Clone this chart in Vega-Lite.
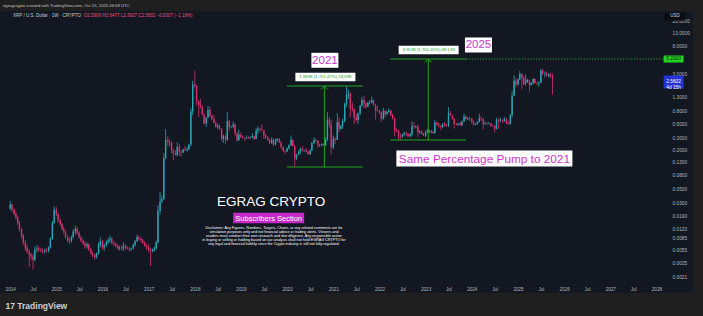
{
"$schema": "https://vega.github.io/schema/vega-lite/v6.json",
"width": 693, "height": 282,
"autosize": {"type": "none"},
"padding": {"left": 0, "top": 11, "right": 10, "bottom": 23},
"background": "#1f1f1f",
"config": {"view": {"fill": "#131722", "stroke": null}, "font": "Liberation Sans"},
"title": {"text": "egragcrypto created with TradingView.com, Oct 15, 2025 06:58 UTC", "anchor": "start", "frame": "group", "offset": 3, "dx": 3, "fontSize": 4.2, "fontWeight": "normal", "color": "#c4c4c4", "font": "Liberation Sans"},
"datasets": {
"candles": [
{"t":"2014-01-01","o":0.0250,"h":0.0330,"l":0.0235,"c":0.0290},
{"t":"2014-01-15","o":0.0290,"h":0.0300,"l":0.0220,"c":0.0240},
{"t":"2014-02-01","o":0.0240,"h":0.0255,"l":0.0195,"c":0.0205},
{"t":"2014-02-15","o":0.0205,"h":0.0225,"l":0.0170,"c":0.0185},
{"t":"2014-03-01","o":0.0185,"h":0.0195,"l":0.0140,"c":0.0150},
{"t":"2014-03-15","o":0.0150,"h":0.0160,"l":0.0110,"c":0.0120},
{"t":"2014-04-01","o":0.0120,"h":0.0125,"l":0.0085,"c":0.0095},
{"t":"2014-04-15","o":0.0095,"h":0.0100,"l":0.0068,"c":0.0075},
{"t":"2014-05-01","o":0.0075,"h":0.0082,"l":0.0055,"c":0.0062},
{"t":"2014-05-15","o":0.0062,"h":0.0070,"l":0.0050,"c":0.0054},
{"t":"2014-06-01","o":0.0054,"h":0.0058,"l":0.0031,"c":0.0048},
{"t":"2014-06-15","o":0.0048,"h":0.0052,"l":0.0040,"c":0.0045},
{"t":"2014-07-01","o":0.0045,"h":0.0050,"l":0.0028,"c":0.0040},
{"t":"2014-07-15","o":0.0040,"h":0.0064,"l":0.0038,"c":0.0058},
{"t":"2014-08-01","o":0.0058,"h":0.0068,"l":0.0052,"c":0.0060},
{"t":"2014-08-15","o":0.0060,"h":0.0065,"l":0.0053,"c":0.0057},
{"t":"2014-09-01","o":0.0057,"h":0.0062,"l":0.0052,"c":0.0055},
{"t":"2014-09-15","o":0.0055,"h":0.0060,"l":0.0050,"c":0.0054},
{"t":"2014-10-01","o":0.0054,"h":0.0060,"l":0.0050,"c":0.0056},
{"t":"2014-10-15","o":0.0056,"h":0.0062,"l":0.0052,"c":0.0055},
{"t":"2014-11-01","o":0.0055,"h":0.0065,"l":0.0052,"c":0.0062},
{"t":"2014-11-15","o":0.0062,"h":0.0090,"l":0.0060,"c":0.0085},
{"t":"2014-12-01","o":0.0085,"h":0.0160,"l":0.0082,"c":0.0150},
{"t":"2014-12-15","o":0.0150,"h":0.0270,"l":0.0145,"c":0.0240},
{"t":"2015-01-01","o":0.0240,"h":0.0265,"l":0.0190,"c":0.0205},
{"t":"2015-01-15","o":0.0205,"h":0.0215,"l":0.0150,"c":0.0165},
{"t":"2015-02-01","o":0.0165,"h":0.0175,"l":0.0135,"c":0.0145},
{"t":"2015-02-15","o":0.0145,"h":0.0150,"l":0.0115,"c":0.0120},
{"t":"2015-03-01","o":0.0120,"h":0.0130,"l":0.0100,"c":0.0110},
{"t":"2015-03-15","o":0.0110,"h":0.0115,"l":0.0085,"c":0.0090},
{"t":"2015-04-01","o":0.0090,"h":0.0098,"l":0.0075,"c":0.0080},
{"t":"2015-04-15","o":0.0080,"h":0.0088,"l":0.0070,"c":0.0078},
{"t":"2015-05-01","o":0.0078,"h":0.0095,"l":0.0074,"c":0.0090},
{"t":"2015-05-15","o":0.0090,"h":0.0120,"l":0.0086,"c":0.0110},
{"t":"2015-06-01","o":0.0110,"h":0.0135,"l":0.0100,"c":0.0120},
{"t":"2015-06-15","o":0.0120,"h":0.0128,"l":0.0098,"c":0.0105},
{"t":"2015-07-01","o":0.0105,"h":0.0112,"l":0.0085,"c":0.0090},
{"t":"2015-07-15","o":0.0090,"h":0.0095,"l":0.0075,"c":0.0080},
{"t":"2015-08-01","o":0.0080,"h":0.0085,"l":0.0068,"c":0.0072},
{"t":"2015-08-15","o":0.0072,"h":0.0078,"l":0.0060,"c":0.0065},
{"t":"2015-09-01","o":0.0065,"h":0.0075,"l":0.0060,"c":0.0070},
{"t":"2015-09-15","o":0.0070,"h":0.0072,"l":0.0055,"c":0.0058},
{"t":"2015-10-01","o":0.0058,"h":0.0062,"l":0.0048,"c":0.0050},
{"t":"2015-10-15","o":0.0050,"h":0.0054,"l":0.0044,"c":0.0047},
{"t":"2015-11-01","o":0.0047,"h":0.0050,"l":0.0040,"c":0.0044},
{"t":"2015-11-15","o":0.0044,"h":0.0052,"l":0.0042,"c":0.0050},
{"t":"2015-12-01","o":0.0050,"h":0.0075,"l":0.0048,"c":0.0068},
{"t":"2015-12-15","o":0.0068,"h":0.0090,"l":0.0062,"c":0.0078},
{"t":"2016-01-01","o":0.0078,"h":0.0082,"l":0.0058,"c":0.0062},
{"t":"2016-01-15","o":0.0062,"h":0.0072,"l":0.0055,"c":0.0068},
{"t":"2016-02-01","o":0.0068,"h":0.0080,"l":0.0064,"c":0.0075},
{"t":"2016-02-15","o":0.0075,"h":0.0088,"l":0.0070,"c":0.0080},
{"t":"2016-03-01","o":0.0080,"h":0.0095,"l":0.0075,"c":0.0085},
{"t":"2016-03-15","o":0.0085,"h":0.0090,"l":0.0070,"c":0.0072},
{"t":"2016-04-01","o":0.0072,"h":0.0078,"l":0.0066,"c":0.0070},
{"t":"2016-04-15","o":0.0070,"h":0.0075,"l":0.0062,"c":0.0066},
{"t":"2016-05-01","o":0.0066,"h":0.0070,"l":0.0058,"c":0.0060},
{"t":"2016-05-15","o":0.0060,"h":0.0066,"l":0.0056,"c":0.0062},
{"t":"2016-06-01","o":0.0062,"h":0.0068,"l":0.0056,"c":0.0060},
{"t":"2016-06-15","o":0.0060,"h":0.0075,"l":0.0055,"c":0.0065},
{"t":"2016-07-01","o":0.0065,"h":0.0070,"l":0.0058,"c":0.0062},
{"t":"2016-07-15","o":0.0062,"h":0.0066,"l":0.0058,"c":0.0060},
{"t":"2016-08-01","o":0.0060,"h":0.0064,"l":0.0054,"c":0.0058},
{"t":"2016-08-15","o":0.0058,"h":0.0062,"l":0.0055,"c":0.0060},
{"t":"2016-09-01","o":0.0060,"h":0.0072,"l":0.0058,"c":0.0068},
{"t":"2016-09-15","o":0.0068,"h":0.0082,"l":0.0064,"c":0.0078},
{"t":"2016-10-01","o":0.0078,"h":0.0098,"l":0.0075,"c":0.0090},
{"t":"2016-10-15","o":0.0090,"h":0.0096,"l":0.0080,"c":0.0085},
{"t":"2016-11-01","o":0.0085,"h":0.0090,"l":0.0076,"c":0.0080},
{"t":"2016-11-15","o":0.0080,"h":0.0084,"l":0.0070,"c":0.0074},
{"t":"2016-12-01","o":0.0074,"h":0.0078,"l":0.0064,"c":0.0066},
{"t":"2016-12-15","o":0.0066,"h":0.0070,"l":0.0058,"c":0.0063},
{"t":"2017-01-01","o":0.0063,"h":0.0070,"l":0.0052,"c":0.0058},
{"t":"2017-01-15","o":0.0058,"h":0.0062,"l":0.0032,"c":0.0055},
{"t":"2017-02-01","o":0.0055,"h":0.0060,"l":0.0052,"c":0.0058},
{"t":"2017-02-15","o":0.0058,"h":0.0064,"l":0.0054,"c":0.0060},
{"t":"2017-03-01","o":0.0060,"h":0.0080,"l":0.0058,"c":0.0075},
{"t":"2017-03-15","o":0.0075,"h":0.0280,"l":0.0072,"c":0.0230},
{"t":"2017-04-01","o":0.0230,"h":0.0450,"l":0.0200,"c":0.0320},
{"t":"2017-04-15","o":0.0320,"h":0.0400,"l":0.0300,"c":0.0350},
{"t":"2017-05-01","o":0.0350,"h":0.1800,"l":0.0340,"c":0.1500},
{"t":"2017-05-15","o":0.1500,"h":0.4300,"l":0.1450,"c":0.2900},
{"t":"2017-06-01","o":0.2900,"h":0.3300,"l":0.2300,"c":0.2700},
{"t":"2017-06-15","o":0.2700,"h":0.3000,"l":0.2300,"c":0.2600},
{"t":"2017-07-01","o":0.2600,"h":0.2800,"l":0.1800,"c":0.2000},
{"t":"2017-07-15","o":0.2000,"h":0.2100,"l":0.1400,"c":0.1800},
{"t":"2017-08-01","o":0.1800,"h":0.2000,"l":0.1650,"c":0.1700},
{"t":"2017-08-15","o":0.1700,"h":0.2650,"l":0.1600,"c":0.2250},
{"t":"2017-09-01","o":0.2250,"h":0.2500,"l":0.1650,"c":0.1900},
{"t":"2017-09-15","o":0.1900,"h":0.2000,"l":0.1600,"c":0.1850},
{"t":"2017-10-01","o":0.1850,"h":0.2100,"l":0.1800,"c":0.2050},
{"t":"2017-10-15","o":0.2050,"h":0.2350,"l":0.1950,"c":0.2000},
{"t":"2017-11-01","o":0.2000,"h":0.2250,"l":0.1900,"c":0.2100},
{"t":"2017-11-15","o":0.2100,"h":0.2550,"l":0.2000,"c":0.2450},
{"t":"2017-12-01","o":0.2450,"h":0.9000,"l":0.2300,"c":0.8000},
{"t":"2017-12-15","o":0.8000,"h":2.4000,"l":0.7000,"c":2.1000},
{"t":"2018-01-01","o":2.1000,"h":3.4000,"l":1.8000,"c":2.0000},
{"t":"2018-01-15","o":2.0000,"h":2.0500,"l":1.0000,"c":1.1500},
{"t":"2018-02-01","o":1.1500,"h":1.2000,"l":0.6500,"c":1.0000},
{"t":"2018-02-15","o":1.0000,"h":1.2500,"l":0.9000,"c":0.9200},
{"t":"2018-03-01","o":0.9200,"h":1.0000,"l":0.7000,"c":0.7200},
{"t":"2018-03-15","o":0.7200,"h":0.7500,"l":0.5000,"c":0.5200},
{"t":"2018-04-01","o":0.5200,"h":0.6500,"l":0.4600,"c":0.6400},
{"t":"2018-04-15","o":0.6400,"h":0.9700,"l":0.6300,"c":0.8400},
{"t":"2018-05-01","o":0.8400,"h":0.9500,"l":0.6500,"c":0.6800},
{"t":"2018-05-15","o":0.6800,"h":0.7200,"l":0.5800,"c":0.6100},
{"t":"2018-06-01","o":0.6100,"h":0.7100,"l":0.5200,"c":0.5300},
{"t":"2018-06-15","o":0.5300,"h":0.5600,"l":0.4500,"c":0.4600},
{"t":"2018-07-01","o":0.4600,"h":0.5200,"l":0.4300,"c":0.4800},
{"t":"2018-07-15","o":0.4800,"h":0.5000,"l":0.4100,"c":0.4300},
{"t":"2018-08-01","o":0.4300,"h":0.4400,"l":0.2800,"c":0.3000},
{"t":"2018-08-15","o":0.3000,"h":0.3500,"l":0.2600,"c":0.3300},
{"t":"2018-09-01","o":0.3300,"h":0.3500,"l":0.2500,"c":0.2900},
{"t":"2018-09-15","o":0.2900,"h":0.7800,"l":0.2800,"c":0.5700},
{"t":"2018-10-01","o":0.5700,"h":0.5900,"l":0.4000,"c":0.4600},
{"t":"2018-10-15","o":0.4600,"h":0.4800,"l":0.4400,"c":0.4650},
{"t":"2018-11-01","o":0.4650,"h":0.5600,"l":0.4400,"c":0.5000},
{"t":"2018-11-15","o":0.5000,"h":0.5200,"l":0.3400,"c":0.3700},
{"t":"2018-12-01","o":0.3700,"h":0.3800,"l":0.2700,"c":0.2900},
{"t":"2018-12-15","o":0.2900,"h":0.4200,"l":0.2800,"c":0.3500},
{"t":"2019-01-01","o":0.3500,"h":0.3800,"l":0.3100,"c":0.3200},
{"t":"2019-01-15","o":0.3200,"h":0.3400,"l":0.3000,"c":0.3100},
{"t":"2019-02-01","o":0.3100,"h":0.3200,"l":0.2800,"c":0.3050},
{"t":"2019-02-15","o":0.3050,"h":0.3400,"l":0.3000,"c":0.3100},
{"t":"2019-03-01","o":0.3100,"h":0.3300,"l":0.3000,"c":0.3080},
{"t":"2019-03-15","o":0.3080,"h":0.3300,"l":0.3050,"c":0.3150},
{"t":"2019-04-01","o":0.3150,"h":0.3700,"l":0.3100,"c":0.3300},
{"t":"2019-04-15","o":0.3300,"h":0.3400,"l":0.2900,"c":0.3000},
{"t":"2019-05-01","o":0.3000,"h":0.4400,"l":0.2950,"c":0.4000},
{"t":"2019-05-15","o":0.4000,"h":0.4700,"l":0.3600,"c":0.4300},
{"t":"2019-06-01","o":0.4300,"h":0.4500,"l":0.3800,"c":0.4250},
{"t":"2019-06-15","o":0.4250,"h":0.5000,"l":0.4100,"c":0.4100},
{"t":"2019-07-01","o":0.4100,"h":0.4200,"l":0.3000,"c":0.3400},
{"t":"2019-07-15","o":0.3400,"h":0.3600,"l":0.3000,"c":0.3150},
{"t":"2019-08-01","o":0.3150,"h":0.3300,"l":0.2800,"c":0.2950},
{"t":"2019-08-15","o":0.2950,"h":0.3000,"l":0.2500,"c":0.2600},
{"t":"2019-09-01","o":0.2600,"h":0.3200,"l":0.2500,"c":0.2900},
{"t":"2019-09-15","o":0.2900,"h":0.3100,"l":0.2300,"c":0.2450},
{"t":"2019-10-01","o":0.2450,"h":0.3000,"l":0.2400,"c":0.2900},
{"t":"2019-10-15","o":0.2900,"h":0.3100,"l":0.2700,"c":0.3000},
{"t":"2019-11-01","o":0.3000,"h":0.3100,"l":0.2600,"c":0.2650},
{"t":"2019-11-15","o":0.2650,"h":0.2750,"l":0.2100,"c":0.2250},
{"t":"2019-12-01","o":0.2250,"h":0.2300,"l":0.1900,"c":0.1950},
{"t":"2019-12-15","o":0.1950,"h":0.2000,"l":0.1750,"c":0.1920},
{"t":"2020-01-01","o":0.1920,"h":0.2200,"l":0.1900,"c":0.2150},
{"t":"2020-01-15","o":0.2150,"h":0.2450,"l":0.2050,"c":0.2400},
{"t":"2020-02-01","o":0.2400,"h":0.3400,"l":0.2350,"c":0.2900},
{"t":"2020-02-15","o":0.2900,"h":0.3000,"l":0.2300,"c":0.2300},
{"t":"2020-03-01","o":0.2300,"h":0.2450,"l":0.1100,"c":0.1500},
{"t":"2020-03-15","o":0.1500,"h":0.1750,"l":0.1400,"c":0.1700},
{"t":"2020-04-01","o":0.1700,"h":0.2000,"l":0.1700,"c":0.1900},
{"t":"2020-04-15","o":0.1900,"h":0.2200,"l":0.1750,"c":0.2100},
{"t":"2020-05-01","o":0.2100,"h":0.2300,"l":0.1900,"c":0.2000},
{"t":"2020-05-15","o":0.2000,"h":0.2050,"l":0.1900,"c":0.2020},
{"t":"2020-06-01","o":0.2020,"h":0.2150,"l":0.1850,"c":0.1900},
{"t":"2020-06-15","o":0.1900,"h":0.1950,"l":0.1700,"c":0.1750},
{"t":"2020-07-01","o":0.1750,"h":0.2050,"l":0.1700,"c":0.2000},
{"t":"2020-07-15","o":0.2000,"h":0.2700,"l":0.1950,"c":0.2600},
{"t":"2020-08-01","o":0.2600,"h":0.3200,"l":0.2500,"c":0.2900},
{"t":"2020-08-15","o":0.2900,"h":0.3050,"l":0.2700,"c":0.2800},
{"t":"2020-09-01","o":0.2800,"h":0.2900,"l":0.2200,"c":0.2400},
{"t":"2020-09-15","o":0.2400,"h":0.2500,"l":0.2250,"c":0.2420},
{"t":"2020-10-01","o":0.2420,"h":0.2550,"l":0.2300,"c":0.2500},
{"t":"2020-10-15","o":0.2500,"h":0.2550,"l":0.2350,"c":0.2400},
{"t":"2020-11-01","o":0.2400,"h":0.3200,"l":0.2300,"c":0.2900},
{"t":"2020-11-15","o":0.2900,"h":0.7800,"l":0.2800,"c":0.6000},
{"t":"2020-12-01","o":0.6000,"h":0.6500,"l":0.4500,"c":0.5000},
{"t":"2020-12-15","o":0.5000,"h":0.6000,"l":0.1700,"c":0.2200},
{"t":"2021-01-01","o":0.2200,"h":0.3400,"l":0.2100,"c":0.3000},
{"t":"2021-01-15","o":0.3000,"h":0.3200,"l":0.2500,"c":0.2900},
{"t":"2021-02-01","o":0.2900,"h":0.7500,"l":0.2900,"c":0.5500},
{"t":"2021-02-15","o":0.5500,"h":0.6500,"l":0.3800,"c":0.4300},
{"t":"2021-03-01","o":0.4300,"h":0.5000,"l":0.4200,"c":0.4700},
{"t":"2021-03-15","o":0.4700,"h":0.6200,"l":0.4300,"c":0.5700},
{"t":"2021-04-01","o":0.5700,"h":1.1000,"l":0.5400,"c":1.0500},
{"t":"2021-04-15","o":1.0500,"h":1.9700,"l":0.9500,"c":1.4500},
{"t":"2021-05-01","o":1.4500,"h":1.7600,"l":1.2500,"c":1.5000},
{"t":"2021-05-15","o":1.5000,"h":1.6000,"l":0.6500,"c":0.9000},
{"t":"2021-06-01","o":0.9000,"h":1.1000,"l":0.8000,"c":0.8500},
{"t":"2021-06-15","o":0.8500,"h":0.9000,"l":0.5100,"c":0.6500},
{"t":"2021-07-01","o":0.6500,"h":0.7200,"l":0.5500,"c":0.5900},
{"t":"2021-07-15","o":0.5900,"h":0.7700,"l":0.5100,"c":0.7500},
{"t":"2021-08-01","o":0.7500,"h":1.0000,"l":0.7000,"c":0.9800},
{"t":"2021-08-15","o":0.9800,"h":1.3500,"l":0.9500,"c":1.2000},
{"t":"2021-09-01","o":1.2000,"h":1.4100,"l":0.9000,"c":1.0700},
{"t":"2021-09-15","o":1.0700,"h":1.1000,"l":0.8800,"c":0.9500},
{"t":"2021-10-01","o":0.9500,"h":1.1300,"l":0.9300,"c":1.0800},
{"t":"2021-10-15","o":1.0800,"h":1.2000,"l":1.0300,"c":1.1000},
{"t":"2021-11-01","o":1.1000,"h":1.3500,"l":1.0600,"c":1.2000},
{"t":"2021-11-15","o":1.2000,"h":1.2200,"l":0.9900,"c":1.0000},
{"t":"2021-12-01","o":1.0000,"h":1.0400,"l":0.6000,"c":0.8300},
{"t":"2021-12-15","o":0.8300,"h":0.9800,"l":0.7800,"c":0.8250},
{"t":"2022-01-01","o":0.8250,"h":0.8500,"l":0.7300,"c":0.7700},
{"t":"2022-01-15","o":0.7700,"h":0.8000,"l":0.5500,"c":0.6100},
{"t":"2022-02-01","o":0.6100,"h":0.9100,"l":0.6000,"c":0.8100},
{"t":"2022-02-15","o":0.8100,"h":0.8300,"l":0.6500,"c":0.7300},
{"t":"2022-03-01","o":0.7300,"h":0.8200,"l":0.7000,"c":0.7800},
{"t":"2022-03-15","o":0.7800,"h":0.8900,"l":0.7600,"c":0.8300},
{"t":"2022-04-01","o":0.8300,"h":0.8500,"l":0.6800,"c":0.7000},
{"t":"2022-04-15","o":0.7000,"h":0.7400,"l":0.6000,"c":0.6200},
{"t":"2022-05-01","o":0.6200,"h":0.6500,"l":0.3300,"c":0.4000},
{"t":"2022-05-15","o":0.4000,"h":0.4400,"l":0.3800,"c":0.3950},
{"t":"2022-06-01","o":0.3950,"h":0.4200,"l":0.2900,"c":0.3300},
{"t":"2022-06-15","o":0.3300,"h":0.3700,"l":0.2890,"c":0.3250},
{"t":"2022-07-01","o":0.3250,"h":0.3600,"l":0.3100,"c":0.3500},
{"t":"2022-07-15","o":0.3500,"h":0.3900,"l":0.3300,"c":0.3700},
{"t":"2022-08-01","o":0.3700,"h":0.3900,"l":0.3300,"c":0.3600},
{"t":"2022-08-15","o":0.3600,"h":0.3700,"l":0.3200,"c":0.3300},
{"t":"2022-09-01","o":0.3300,"h":0.3700,"l":0.3200,"c":0.3500},
{"t":"2022-09-15","o":0.3500,"h":0.5600,"l":0.3300,"c":0.4700},
{"t":"2022-10-01","o":0.4700,"h":0.5500,"l":0.4300,"c":0.4600},
{"t":"2022-10-15","o":0.4600,"h":0.4800,"l":0.4400,"c":0.4700},
{"t":"2022-11-01","o":0.4700,"h":0.5000,"l":0.3200,"c":0.3800},
{"t":"2022-11-15","o":0.3800,"h":0.4100,"l":0.3600,"c":0.3900},
{"t":"2022-12-01","o":0.3900,"h":0.4100,"l":0.3500,"c":0.3600},
{"t":"2022-12-15","o":0.3600,"h":0.3700,"l":0.3300,"c":0.3400},
{"t":"2023-01-01","o":0.3400,"h":0.4000,"l":0.3200,"c":0.3800},
{"t":"2023-01-15","o":0.3800,"h":0.4300,"l":0.3700,"c":0.4100},
{"t":"2023-02-01","o":0.4100,"h":0.4200,"l":0.3700,"c":0.3800},
{"t":"2023-02-15","o":0.3800,"h":0.4100,"l":0.3700,"c":0.3850},
{"t":"2023-03-01","o":0.3850,"h":0.4000,"l":0.3600,"c":0.3700},
{"t":"2023-03-15","o":0.3700,"h":0.5900,"l":0.3600,"c":0.5400},
{"t":"2023-04-01","o":0.5400,"h":0.5500,"l":0.4800,"c":0.5000},
{"t":"2023-04-15","o":0.5000,"h":0.5400,"l":0.4500,"c":0.4800},
{"t":"2023-05-01","o":0.4800,"h":0.4900,"l":0.4100,"c":0.4600},
{"t":"2023-05-15","o":0.4600,"h":0.5000,"l":0.4400,"c":0.5200},
{"t":"2023-06-01","o":0.5200,"h":0.5500,"l":0.4600,"c":0.4800},
{"t":"2023-06-15","o":0.4800,"h":0.5100,"l":0.4600,"c":0.4750},
{"t":"2023-07-01","o":0.4750,"h":0.9300,"l":0.4600,"c":0.7500},
{"t":"2023-07-15","o":0.7500,"h":0.8200,"l":0.6900,"c":0.7000},
{"t":"2023-08-01","o":0.7000,"h":0.7100,"l":0.6000,"c":0.6100},
{"t":"2023-08-15","o":0.6100,"h":0.6300,"l":0.4300,"c":0.5100},
{"t":"2023-09-01","o":0.5100,"h":0.5300,"l":0.4800,"c":0.5000},
{"t":"2023-09-15","o":0.5000,"h":0.5300,"l":0.4800,"c":0.5200},
{"t":"2023-10-01","o":0.5200,"h":0.5500,"l":0.4800,"c":0.4900},
{"t":"2023-10-15","o":0.4900,"h":0.5800,"l":0.4800,"c":0.5600},
{"t":"2023-11-01","o":0.5600,"h":0.7400,"l":0.5500,"c":0.6700},
{"t":"2023-11-15","o":0.6700,"h":0.6900,"l":0.5800,"c":0.6100},
{"t":"2023-12-01","o":0.6100,"h":0.6600,"l":0.5900,"c":0.6200},
{"t":"2023-12-15","o":0.6200,"h":0.6500,"l":0.5700,"c":0.6150},
{"t":"2024-01-01","o":0.6150,"h":0.6400,"l":0.5200,"c":0.5600},
{"t":"2024-01-15","o":0.5600,"h":0.5800,"l":0.4800,"c":0.5000},
{"t":"2024-02-01","o":0.5000,"h":0.5300,"l":0.4900,"c":0.5200},
{"t":"2024-02-15","o":0.5200,"h":0.5700,"l":0.5000,"c":0.5500},
{"t":"2024-03-01","o":0.5500,"h":0.7400,"l":0.5400,"c":0.6300},
{"t":"2024-03-15","o":0.6300,"h":0.6700,"l":0.5700,"c":0.6200},
{"t":"2024-04-01","o":0.6200,"h":0.6300,"l":0.4200,"c":0.5100},
{"t":"2024-04-15","o":0.5100,"h":0.5600,"l":0.4900,"c":0.5200},
{"t":"2024-05-01","o":0.5200,"h":0.5500,"l":0.4900,"c":0.5150},
{"t":"2024-05-15","o":0.5150,"h":0.5500,"l":0.5000,"c":0.5200},
{"t":"2024-06-01","o":0.5200,"h":0.5300,"l":0.4600,"c":0.4800},
{"t":"2024-06-15","o":0.4800,"h":0.5000,"l":0.4600,"c":0.4750},
{"t":"2024-07-01","o":0.4750,"h":0.4900,"l":0.3800,"c":0.4300},
{"t":"2024-07-15","o":0.4300,"h":0.6400,"l":0.4200,"c":0.6000},
{"t":"2024-08-01","o":0.6000,"h":0.6300,"l":0.4300,"c":0.5600},
{"t":"2024-08-15","o":0.5600,"h":0.6400,"l":0.5500,"c":0.5700},
{"t":"2024-09-01","o":0.5700,"h":0.6000,"l":0.5300,"c":0.5650},
{"t":"2024-09-15","o":0.5650,"h":0.6600,"l":0.5600,"c":0.6100},
{"t":"2024-10-01","o":0.6100,"h":0.6400,"l":0.5100,"c":0.5300},
{"t":"2024-10-15","o":0.5300,"h":0.5700,"l":0.5000,"c":0.5100},
{"t":"2024-11-01","o":0.5100,"h":0.7300,"l":0.5000,"c":0.7000},
{"t":"2024-11-15","o":0.7000,"h":1.6500,"l":0.6500,"c":1.4000},
{"t":"2024-12-01","o":1.4000,"h":2.9100,"l":1.3800,"c":2.4000},
{"t":"2024-12-15","o":2.4000,"h":2.6500,"l":1.9000,"c":2.1000},
{"t":"2025-01-01","o":2.1000,"h":2.6000,"l":2.0000,"c":2.5000},
{"t":"2025-01-15","o":2.5000,"h":3.4000,"l":2.4500,"c":3.0500},
{"t":"2025-02-01","o":3.0500,"h":3.1500,"l":1.7700,"c":2.6500},
{"t":"2025-02-15","o":2.6500,"h":2.8000,"l":2.0500,"c":2.1500},
{"t":"2025-03-01","o":2.1500,"h":3.0000,"l":2.0000,"c":2.2500},
{"t":"2025-03-15","o":2.2500,"h":2.6000,"l":2.2000,"c":2.4500},
{"t":"2025-04-01","o":2.4500,"h":2.5000,"l":1.6100,"c":2.0500},
{"t":"2025-04-15","o":2.0500,"h":2.3000,"l":2.0000,"c":2.2000},
{"t":"2025-05-01","o":2.2000,"h":2.6500,"l":2.1000,"c":2.5500},
{"t":"2025-05-15","o":2.5500,"h":2.5800,"l":2.1500,"c":2.2000},
{"t":"2025-06-01","o":2.2000,"h":2.3300,"l":2.0500,"c":2.1700},
{"t":"2025-06-15","o":2.1700,"h":2.3500,"l":1.9200,"c":2.2300},
{"t":"2025-07-01","o":2.2300,"h":3.6600,"l":2.2000,"c":3.4500},
{"t":"2025-07-15","o":3.4500,"h":3.6500,"l":2.9500,"c":3.0500},
{"t":"2025-08-01","o":3.0500,"h":3.3500,"l":2.7200,"c":3.1000},
{"t":"2025-08-15","o":3.1000,"h":3.3000,"l":2.8000,"c":2.8200},
{"t":"2025-09-01","o":2.8200,"h":3.1500,"l":2.7000,"c":3.0000},
{"t":"2025-09-15","o":3.0000,"h":3.1800,"l":2.6800,"c":2.8500},
{"t":"2025-10-01","o":2.8500,"h":3.1000,"l":1.4500,"c":2.5602}
],
"lines": [
{"k":"h","t":"2019-12-30","t2":"2021-08-21","p":1.985,"p2":1.985},
{"k":"h","t":"2019-12-30","t2":"2021-08-21","p":0.11,"p2":0.11},
{"k":"v","t":"2020-10-22","t2":"2020-10-22","p":0.11,"p2":1.985},
{"k":"h","t":"2022-03-27","t2":"2023-11-17","p":5.2,"p2":5.2},
{"k":"h","t":"2022-03-27","t2":"2023-11-17","p":0.2888,"p2":0.2888},
{"k":"v","t":"2023-01-22","t2":"2023-01-22","p":0.2888,"p2":5.2},
{"k":"dot","t":"2023-11-17","t2":"2028-02-23","p":5.2,"p2":5.2}
],
"notes": [
{"k":"tag","t":"2020-10-26","p":4.967,"s":"2021"},
{"k":"tag","t":"2024-02-23","p":8.58,"s":"2025"},
{"k":"meas","t":"2020-10-30","p":2.736,"s":"1.8698 (1,701.47%) 18,698"},
{"k":"meas","t":"2023-01-25","p":7.175,"s":"4.9139 (1,700.45%) 49,139"},
{"k":"big","t":"2024-04-10","p":0.1492,"s":"Same Percentage Pump to 2021"},
{"k":"brand","t":"2019-08-27","p":0.03155,"s":"EGRAG CRYPTO"},
{"k":"sub","t":"2019-08-08","p":0.01783,"s":"Subscribers Section"},
{"k":"disc","t":"2019-09-19","p":0.0134,"s":"Disclaimer: Any Figures, Numbers, Targets, Charts, or any related comments are for\nsimulation purposes only and not financial advice or trading alerts. Viewers and\nreaders must conduct their own research and due diligence. Any responsible action\nin buying or selling or holding based on our analysis shall not hold EGRAG CRYPTO for\nany legal and financial liability since the Crypto industry is still not fully regulated."},
{"k":"pg","t":"2028-05-16","p":5.2,"s":"5.2000"},
{"k":"pb","t":"2028-05-16","p":2.289,"s":"2.5602\n4d 15h"},
{"k":"usd","t":"2028-05-28","p":23.73,"s":"USD"},
{"k":"leg","t":"2014-01-23","p":23.73,"s":"XRP / U.S. Dollar · 1W · CRYPTO"},
{"k":"legv","t":"2015-08-07","p":23.73,"s":"O2.5909 H2.6477 L2.3927 C2.5602 −0.0307 (−1.18%)"}
]
},
"layer": [
{
"data": {"name": "candles"},
"mark": {"type": "rule", "strokeWidth": 0.8},
"encoding": {
"x": {"field": "t", "type": "temporal",
"scale": {"domain": [{"year": 2013, "month": 11, "date": 21}, {"year": 2028, "month": 9, "date": 7}], "nice": false},
"axis": {"orient": "bottom", "offset": -8, "ticks": false, "domain": false, "grid": false, "labelFlush": false, "labelOverlap": false, "labelPadding": 1, "labelFontSize": 4.6, "labelColor": "#b2b5be", "labelFont": "Liberation Sans", "tickCount": 100,
"values": [1388534400000, 1404172800000, 1420070400000, 1435708800000, 1451606400000, 1467331200000, 1483228800000, 1498867200000, 1514764800000, 1530403200000, 1546300800000, 1561939200000, 1577836800000, 1593561600000, 1609459200000, 1625097600000, 1640995200000, 1656633600000, 1672531200000, 1688169600000, 1704067200000, 1719792000000, 1735689600000, 1751328000000, 1767225600000, 1782864000000, 1798761600000, 1814400000000, 1830297600000],
"labelExpr": "utcFormat(datum.value, '%m') == '07' ? 'Jul' : utcFormat(datum.value, '%Y')",
"title": "17 TradingView", "titleX": 5, "titleY": 20, "titleAlign": "left", "titleBaseline": "middle", "titleFontSize": 8.5, "titleColor": "#d1d1d1", "titleFontWeight": "bold", "titleFont": "Liberation Sans"}},
"y": {"field": "l", "type": "quantitative",
"scale": {"type": "log", "domain": [0.001226, 28.87], "nice": false, "zero": false},
"axis": {"orient": "right", "offset": -21, "ticks": false, "domain": false, "grid": false, "labelAlign": "left", "labelBaseline": "middle", "labelPadding": 0, "labelFlush": false, "labelOverlap": false, "labelFontSize": 4.8, "labelColor": "#b2b5be", "labelFont": "Liberation Sans", "format": ".4f", "title": null, "tickCount": 100,
"values": [20, 13, 8, 3, 1.3, 0.8, 0.5, 0.3, 0.2, 0.13, 0.08, 0.05, 0.03, 0.019, 0.012, 0.0085, 0.0055, 0.0035, 0.0021]}},
"y2": {"field": "h"},
"color": {"condition": {"test": "datum.c >= datum.o", "value": "#2aa5b5"}, "value": "#d5306d"}
}
},
{
"data": {"name": "candles"},
"mark": {"type": "bar", "size": 1.4},
"encoding": {
"x": {"field": "t", "type": "temporal"},
"y": {"field": "o", "type": "quantitative"},
"y2": {"field": "c"},
"color": {"condition": {"test": "datum.c >= datum.o", "value": "#2aa5b5"}, "value": "#d5306d"}
}
},
{
"data": {"name": "lines"},
"transform": [{"filter": "datum.k != 'dot'"}],
"mark": {"type": "rule", "color": "#1fa51f", "strokeWidth": 1},
"encoding": {
"x": {"field": "t", "type": "temporal"}, "x2": {"field": "t2"},
"y": {"field": "p", "type": "quantitative"}, "y2": {"field": "p2"}
}
},
{
"data": {"name": "lines"},
"transform": [{"filter": "datum.k == 'dot'"}],
"mark": {"type": "rule", "color": "#2aa52a", "strokeWidth": 1, "strokeDash": [1.2, 1.6]},
"encoding": {
"x": {"field": "t", "type": "temporal"}, "x2": {"field": "t2"},
"y": {"field": "p", "type": "quantitative"}, "y2": {"field": "p2"}
}
},
{
"data": {"name": "lines"},
"transform": [{"filter": "datum.k == 'v'"}],
"mark": {"type": "point", "shape": "M-1,1L0,0L1,1", "size": 49, "filled": false, "stroke": "#1fa51f", "strokeWidth": 1, "opacity": 1},
"encoding": {
"x": {"field": "t2", "type": "temporal"},
"y": {"field": "p2", "type": "quantitative"}
}
},
{
"data": {"name": "notes"},
"transform": [{"filter": "datum.k == 'tag'"}],
"mark": {"type": "point", "shape": "M-1,-0.556H1V0.556H-1Z", "size": 729, "filled": true, "fill": "#ffffff", "strokeWidth": 0, "opacity": 1},
"encoding": {"x": {"field": "t", "type": "temporal"}, "y": {"field": "p", "type": "quantitative"}}
},
{
"data": {"name": "notes"},
"transform": [{"filter": "datum.k == 'meas'"}],
"mark": {"type": "point", "shape": "M-1,-0.1417H1V0.1417H-1Z", "size": 3600, "filled": true, "fill": "#ffffff", "strokeWidth": 0, "opacity": 1},
"encoding": {"x": {"field": "t", "type": "temporal"}, "y": {"field": "p", "type": "quantitative"}}
},
{
"data": {"name": "notes"},
"transform": [{"filter": "datum.k == 'big'"}],
"mark": {"type": "point", "shape": "M-1,-0.0909H1V0.0909H-1Z", "size": 30976, "filled": true, "fill": "#ffffff", "strokeWidth": 0, "opacity": 1},
"encoding": {"x": {"field": "t", "type": "temporal"}, "y": {"field": "p", "type": "quantitative"}}
},
{
"data": {"name": "notes"},
"transform": [{"filter": "datum.k == 'sub'"}],
"mark": {"type": "point", "shape": "M-1,-0.148H1V0.148H-1Z", "size": 5041, "filled": true, "fill": "#c62ac6", "strokeWidth": 0, "opacity": 1},
"encoding": {"x": {"field": "t", "type": "temporal"}, "y": {"field": "p", "type": "quantitative"}}
},
{
"data": {"name": "notes"},
"transform": [{"filter": "datum.k == 'pg'"}],
"mark": {"type": "point", "shape": "M-1,-0.35H1V0.35H-1Z", "size": 400, "filled": true, "fill": "#22d422", "strokeWidth": 0, "opacity": 1},
"encoding": {"x": {"field": "t", "type": "temporal"}, "y": {"field": "p", "type": "quantitative"}}
},
{
"data": {"name": "notes"},
"transform": [{"filter": "datum.k == 'pb'"}],
"mark": {"type": "point", "shape": "M-1,-0.65H1V0.65H-1Z", "size": 400, "filled": true, "fill": "#2433d8", "strokeWidth": 0, "opacity": 1},
"encoding": {"x": {"field": "t", "type": "temporal"}, "y": {"field": "p", "type": "quantitative"}}
},
{
"data": {"name": "notes"},
"transform": [{"filter": "datum.k == 'usd'"}],
"mark": {"type": "point", "shape": "M-1,-0.381H1V0.381H-1Z", "size": 441, "filled": true, "fill": "#0b0d12", "strokeWidth": 0, "opacity": 1},
"encoding": {"x": {"field": "t", "type": "temporal"}, "y": {"field": "p", "type": "quantitative"}}
},
{
"data": {"name": "notes"},
"transform": [{"filter": "datum.k == 'tag'"}],
"mark": {"type": "text", "font": "Liberation Sans", "fontSize": 11.5, "color": "#cf34cf", "align": "center", "baseline": "middle", "dy": 0.5},
"encoding": {"x": {"field": "t", "type": "temporal"}, "y": {"field": "p", "type": "quantitative"}, "text": {"field": "s"}}
},
{
"data": {"name": "notes"},
"transform": [{"filter": "datum.k == 'big'"}],
"mark": {"type": "text", "font": "Liberation Sans", "fontSize": 11.8, "color": "#cf34cf", "align": "center", "baseline": "middle", "dy": 0.5},
"encoding": {"x": {"field": "t", "type": "temporal"}, "y": {"field": "p", "type": "quantitative"}, "text": {"field": "s"}}
},
{
"data": {"name": "notes"},
"transform": [{"filter": "datum.k == 'meas'"}],
"mark": {"type": "text", "font": "Liberation Sans", "fontSize": 4.3, "color": "#18a018", "align": "center", "baseline": "middle"},
"encoding": {"x": {"field": "t", "type": "temporal"}, "y": {"field": "p", "type": "quantitative"}, "text": {"field": "s"}}
},
{
"data": {"name": "notes"},
"transform": [{"filter": "datum.k == 'brand'"}],
"mark": {"type": "text", "font": "Liberation Sans", "fontSize": 13.5, "color": "#ffffff", "align": "center", "baseline": "middle"},
"encoding": {"x": {"field": "t", "type": "temporal"}, "y": {"field": "p", "type": "quantitative"}, "text": {"field": "s"}}
},
{
"data": {"name": "notes"},
"transform": [{"filter": "datum.k == 'sub'"}],
"mark": {"type": "text", "font": "Liberation Sans", "fontSize": 7.5, "color": "#ffffff", "align": "center", "baseline": "middle", "dy": 0.5},
"encoding": {"x": {"field": "t", "type": "temporal"}, "y": {"field": "p", "type": "quantitative"}, "text": {"field": "s"}}
},
{
"data": {"name": "notes"},
"transform": [{"filter": "datum.k == 'disc'"}],
"mark": {"type": "text", "font": "Liberation Sans", "fontSize": 3.7, "lineHeight": 4, "lineBreak": "\n", "color": "#ffffff", "align": "center", "baseline": "top"},
"encoding": {"x": {"field": "t", "type": "temporal"}, "y": {"field": "p", "type": "quantitative"}, "text": {"field": "s"}}
},
{
"data": {"name": "notes"},
"transform": [{"filter": "datum.k == 'pg'"}],
"mark": {"type": "text", "font": "Liberation Sans", "fontSize": 4.8, "color": "#0c1a0c", "align": "center", "baseline": "middle"},
"encoding": {"x": {"field": "t", "type": "temporal"}, "y": {"field": "p", "type": "quantitative"}, "text": {"field": "s"}}
},
{
"data": {"name": "notes"},
"transform": [{"filter": "datum.k == 'pb'"}],
"mark": {"type": "text", "font": "Liberation Sans", "fontSize": 4.8, "lineHeight": 6, "lineBreak": "\n", "color": "#ffffff", "align": "center", "baseline": "middle"},
"encoding": {"x": {"field": "t", "type": "temporal"}, "y": {"field": "p", "type": "quantitative"}, "text": {"field": "s"}}
},
{
"data": {"name": "notes"},
"transform": [{"filter": "datum.k == 'usd'"}],
"mark": {"type": "text", "font": "Liberation Sans", "fontSize": 4.5, "color": "#d1d4dc", "align": "center", "baseline": "middle"},
"encoding": {"x": {"field": "t", "type": "temporal"}, "y": {"field": "p", "type": "quantitative"}, "text": {"field": "s"}}
},
{
"data": {"name": "notes"},
"transform": [{"filter": "datum.k == 'leg'"}],
"mark": {"type": "text", "font": "Liberation Sans", "fontSize": 4.5, "color": "#c8cad2", "align": "left", "baseline": "middle"},
"encoding": {"x": {"field": "t", "type": "temporal"}, "y": {"field": "p", "type": "quantitative"}, "text": {"field": "s"}}
},
{
"data": {"name": "notes"},
"transform": [{"filter": "datum.k == 'legv'"}],
"mark": {"type": "text", "font": "Liberation Sans", "fontSize": 4.5, "color": "#ef4f7a", "align": "left", "baseline": "middle"},
"encoding": {"x": {"field": "t", "type": "temporal"}, "y": {"field": "p", "type": "quantitative"}, "text": {"field": "s"}}
}
]
}
